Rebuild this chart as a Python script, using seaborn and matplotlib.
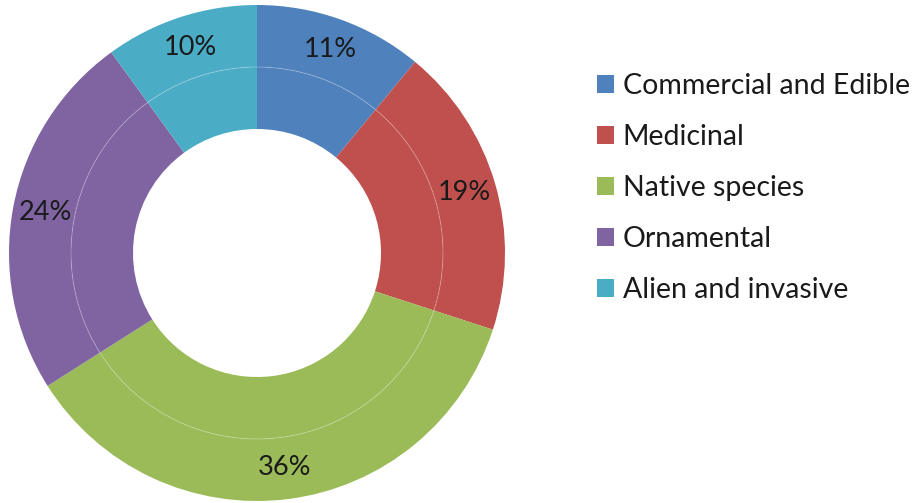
import matplotlib
matplotlib.use("Agg")
import matplotlib.pyplot as plt
from matplotlib.patches import Patch, Circle
import seaborn as sns

categories = ["Commercial and Edible", "Medicinal", "Native species", "Ornamental", "Alien and invasive"]
values = [11, 19, 36, 24, 10]
labels = ["11%", "19%", "36%", "24%", "10%"]
colors = ["#4F81BD", "#C0504D", "#9BBB59", "#8064A2", "#4BACC6"]

sns.set_theme(style="white")
plt.rcParams["font.family"] = ["Lato", "DejaVu Sans"]

W, H = 913, 503
fig = plt.figure(figsize=(W / 100, H / 100), dpi=100)
cx, cy, R = 257, 253, 248
ax = fig.add_axes([(cx - R) / W, (H - cy - R) / H, 2 * R / W, 2 * R / H])
pal = sns.color_palette(colors)

# outer ring
ax.pie(values, radius=1.0, colors=pal, startangle=90, counterclock=False,
       wedgeprops=dict(width=0.25, edgecolor="none", linewidth=0),
       labels=labels, labeldistance=0.87,
       textprops=dict(fontsize=19.5, color="#1a1a1a", ha="center", va="center"))
# inner ring
ax.pie(values, radius=0.75, colors=pal, startangle=90, counterclock=False,
       wedgeprops=dict(width=0.25, edgecolor="none", linewidth=0))
ax.add_patch(Circle((0, 0), 0.75, fill=False, edgecolor="white", alpha=0.2, linewidth=0.8))
ax.set_xlim(-1, 1)
ax.set_ylim(-1, 1)
ax.set_aspect("equal")
ax.axis("off")

handles = [Patch(facecolor=c, edgecolor="none") for c in pal]
fig.legend(handles, categories, loc="upper left",
           bbox_to_anchor=(597 / W, 1 - 73 / H), frameon=False,
           fontsize=20.5, handlelength=0.6, handleheight=0.6,
           handletextpad=0.3, labelspacing=0.88, borderaxespad=0, borderpad=0,
           labelcolor="#1a1a1a")

fig.savefig("out.png", dpi=100)
